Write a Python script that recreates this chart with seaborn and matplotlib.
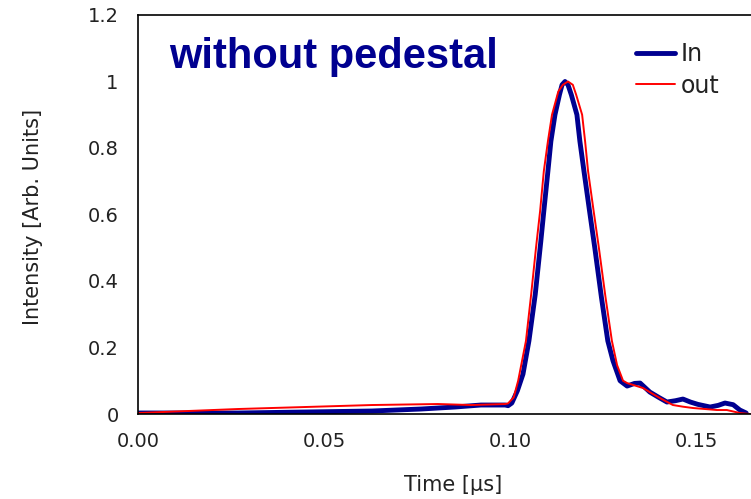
import matplotlib
matplotlib.use("Agg")
import matplotlib.pyplot as plt
from matplotlib.ticker import MultipleLocator, FormatStrFormatter
import seaborn as sns
import pandas as pd

# Input pulse (In)
t_in = [0.0, 0.0269, 0.0449, 0.0629, 0.0761, 0.0852, 0.0922, 0.0987, 0.0995,
        0.1005, 0.1020, 0.1035, 0.1051, 0.1068, 0.1083, 0.1091, 0.1102, 0.1110,
        0.1121, 0.1133, 0.1140, 0.1148, 0.1156, 0.1165, 0.1180, 0.1188, 0.1199,
        0.1214, 0.1228, 0.1246, 0.1263, 0.1277, 0.1296, 0.1315, 0.1335, 0.1350,
        0.1376, 0.1400, 0.1422, 0.1445, 0.1465, 0.1485, 0.1505, 0.1538, 0.1560,
        0.1578, 0.1600, 0.1618, 0.1635]
v_in = [0.003, 0.003, 0.006, 0.009, 0.015, 0.021, 0.027, 0.027, 0.025,
        0.033, 0.07, 0.12, 0.22, 0.36, 0.52, 0.61, 0.73, 0.82,
        0.90, 0.96, 0.99, 1.00, 0.99, 0.96, 0.90, 0.82, 0.73,
        0.61, 0.50, 0.35, 0.22, 0.16, 0.10, 0.084, 0.092, 0.093,
        0.066, 0.050, 0.036, 0.040, 0.045, 0.036, 0.029, 0.021, 0.026,
        0.033, 0.028, 0.012, 0.003]

# Output pulse (out)
t_out = [0.0, 0.0269, 0.0449, 0.0629, 0.0806, 0.0895, 0.0987, 0.0995, 0.1010,
         0.1022, 0.1043, 0.1057, 0.1070, 0.1081, 0.1091, 0.1102, 0.1113, 0.1130,
         0.1142, 0.1156, 0.1169, 0.1178, 0.1194, 0.1202, 0.1210, 0.1225, 0.1239,
         0.1257, 0.1274, 0.1288, 0.1304, 0.1315, 0.1335, 0.1358, 0.1380, 0.1403,
         0.1438, 0.1465, 0.1492, 0.1556, 0.1583, 0.1618, 0.1645]
v_out = [0.003, 0.015, 0.021, 0.027, 0.030, 0.027, 0.030, 0.032, 0.05,
         0.10, 0.22, 0.36, 0.50, 0.61, 0.73, 0.82, 0.90, 0.97,
         0.99, 1.00, 0.99, 0.96, 0.90, 0.82, 0.73, 0.61, 0.50,
         0.35, 0.22, 0.147, 0.10, 0.093, 0.086, 0.078, 0.063, 0.048,
         0.027, 0.022, 0.018, 0.012, 0.012, 0.003, 0.0]

series_names = ["In", "out"]
navy = "#000090"
red = "#ff0000"
ink = "#222222"

sns.set_theme(style="white")
plt.rcParams["font.family"] = ["DejaVu Sans"]

fig = plt.figure(figsize=(7.51, 4.99), dpi=100)
ax = fig.add_axes([138 / 751, 85 / 499, 613 / 751, 399 / 499])

df_in = pd.DataFrame({"t": t_in, "v": v_in})
df_out = pd.DataFrame({"t": t_out, "v": v_out})
sns.lineplot(data=df_in, x="t", y="v", ax=ax, color=navy, linewidth=3.5,
             label=series_names[0], sort=False)
sns.lineplot(data=df_out, x="t", y="v", ax=ax, color=red, linewidth=1.4,
             label=series_names[1], sort=False)

ax.set_xlim(0, 0.1648)
ax.set_ylim(0, 1.2)
ax.xaxis.set_major_locator(MultipleLocator(0.05))
ax.xaxis.set_minor_locator(MultipleLocator(0.01))
ax.xaxis.set_major_formatter(FormatStrFormatter("%.2f"))
ax.yaxis.set_minor_locator(MultipleLocator(0.04))
ax.set_yticks([0, 0.2, 0.4, 0.6, 0.8, 1.0, 1.2])
ax.set_yticklabels(["0", "0.2", "0.4", "0.6", "0.8", "1", "1.2"])

ax.tick_params(axis="both", which="both", direction="in", color="black",
               width=1.0, labelsize=14, labelcolor=ink)
ax.tick_params(axis="x", which="major", length=6, pad=13)
ax.tick_params(axis="x", which="minor", length=5)
ax.tick_params(axis="y", which="major", length=6, pad=14)
ax.tick_params(axis="y", which="minor", length=5)

for side in ["left", "bottom", "top"]:
    ax.spines[side].set_color("black")
    ax.spines[side].set_linewidth(1.2)
ax.spines["right"].set_visible(False)

ax.set_xlabel("Time [\u03bcs]", fontsize=15, color=ink)
ax.set_ylabel("Intensity [Arb. Units]", fontsize=15, color=ink)
ax.xaxis.set_label_coords((453 - 138) / 613, (414 - 475) / 399)
ax.yaxis.set_label_coords((43 - 138) / 613, (414 - 217) / 399)

ax.text(169 / 751, (499 - 68) / 499, "without pedestal", transform=fig.transFigure,
        ha="left", va="baseline", fontsize=30, fontweight="bold",
        color=navy, family=["Liberation Sans", "DejaVu Sans"])

leg = ax.legend(loc="upper left", bbox_to_anchor=((636 - 138) / 613, (414 - 42) / 399),
                frameon=False, fontsize=17, handlelength=1.65, handletextpad=0.25,
                labelspacing=0.32, borderaxespad=0, borderpad=0)
for txt in leg.get_texts():
    txt.set_color(ink)

fig.savefig("out.png", dpi=100)
